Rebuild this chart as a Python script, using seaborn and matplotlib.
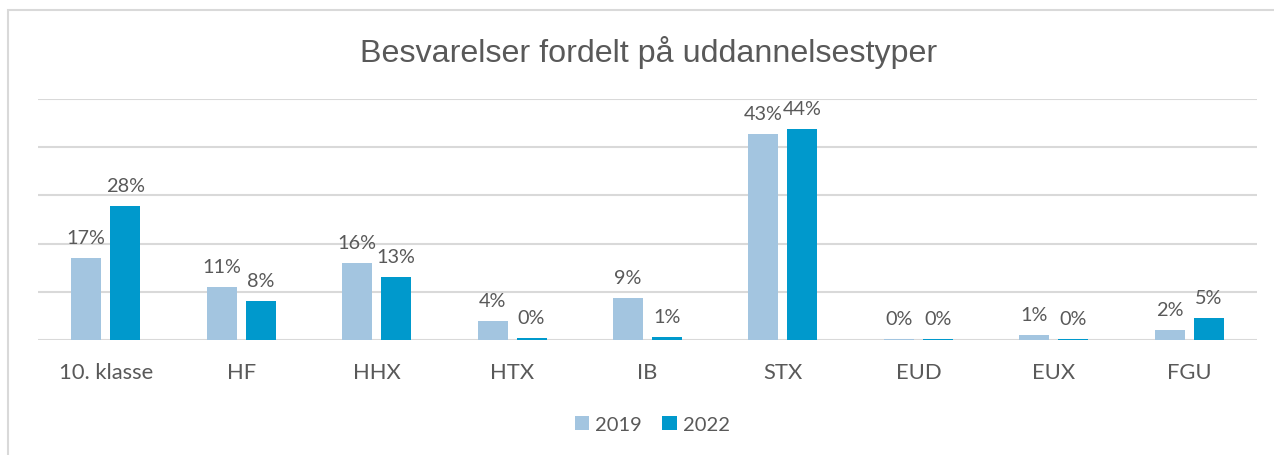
import numpy as np
import pandas as pd
import matplotlib
matplotlib.use('Agg')
import matplotlib.pyplot as plt
from matplotlib.patches import Rectangle
import seaborn as sns

# data (percent of answers)
categories = ['10. klasse', 'HF', 'HHX', 'HTX', 'IB', 'STX', 'EUD', 'EUX', 'FGU']
years = ['2019', '2022']
pct_2019 = [17.0, 11.0, 16.0, 3.9, 8.7, 42.7, 0.3, 1.1, 2.1]
pct_2022 = [27.8, 8.1, 13.1, 0.4, 0.6, 43.8, 0.3, 0.3, 4.6]
colors = ['#A3C5E0', '#0099CC']
title = 'Besvarelser fordelt på uddannelsestyper'

sns.set_theme(style='white')
plt.rcParams['font.family'] = ['Lato', 'DejaVu Sans']

TEXT = '#595959'
GRID = '#D9D9D9'

df = pd.DataFrame({
    'type': categories * 2,
    'year': [years[0]] * len(categories) + [years[1]] * len(categories),
    'pct': pct_2019 + pct_2022,
})

fig = plt.figure(figsize=(12.74, 4.56), dpi=100)
ax = fig.add_axes([38 / 1274, 115 / 456, (1257 - 38) / 1274, 241 / 456])

sns.barplot(data=df, x='type', y='pct', hue='year', palette=colors,
            width=0.576, gap=0.23, saturation=1, linewidth=0,
            ax=ax, legend=True)

for cont in ax.containers:
    ax.bar_label(cont, fmt=lambda v: f'{v:.0f}%', padding=8.5,
                 fontsize=14.3, color=TEXT)

ax.set_ylim(0, 50)
ax.set_xlim(-0.5, len(categories) - 0.5)
ax.set_yticks(np.arange(0, 51, 10))
ax.set_yticklabels([])
ax.yaxis.grid(True, color=GRID, linewidth=1.5)
ax.set_axisbelow(True)
for s in ax.spines.values():
    s.set_visible(False)
ax.tick_params(axis='x', length=0, pad=16, labelsize=15.8, labelcolor=TEXT)
ax.tick_params(axis='y', length=0)
ax.set_xlabel('')
ax.set_ylabel('')

sns.move_legend(ax, 'center', bbox_to_anchor=(0.504, -0.35), ncol=2,
                frameon=False, title=None, fontsize=14.5,
                handlelength=0.72, handleheight=0.72, handletextpad=0.3,
                columnspacing=1.0)
for t in ax.get_legend().get_texts():
    t.set_color(TEXT)

fig.text(0.509, 1 - 62 / 456, title, ha='center', va='baseline',
         fontsize=23.2, color=TEXT, family=['Liberation Sans', 'DejaVu Sans'])

# light chart frame like the spreadsheet chart area
fig.add_artist(Rectangle((8 / 1274, -0.1), 1.1, (456 - 11) / 456 + 0.1,
                         transform=fig.transFigure, fill=False,
                         edgecolor=GRID, linewidth=1.5))

fig.savefig('out.png', dpi=100)
plt.close(fig)
